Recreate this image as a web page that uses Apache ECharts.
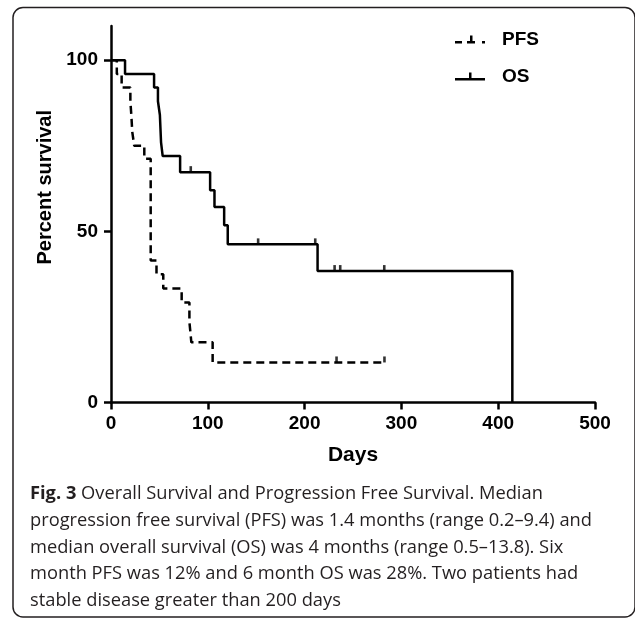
<!DOCTYPE html>
<html>
<head>
<meta charset="utf-8">
<script src="https://cdn.jsdelivr.net/npm/echarts@6/dist/echarts.min.js"></script>
<style>
html, body { margin: 0; padding: 0; background: #fff; }
#chart { width: 635px; height: 620px; }
</style>
</head>
<body>
<div id="chart"></div>
<script>
// Kaplan-Meier steps (day, percent survival)
var osDays = [0, 14.5, 44.5, 48.5, 50.5, 51.7, 53.4, 71.4, 102.4, 106.9, 116.9, 120.6, 213.4, 414.6];
var osSurv = [100, 96, 92, 88, 84, 76, 72, 67.3, 62, 57.1, 51.8, 46.2, 38.4, 0];
var osCensorDays = [82.4, 152, 211, 231, 236.8, 282.3];
var osCensorSurv = [67.3, 46.2, 46.2, 38.4, 38.4, 38.4];

var pfsDays = [0, 6, 11, 20, 21, 22, 24, 34.4, 41, 47, 54, 73, 81, 83, 105, 282.5];
var pfsSurv = [100, 96, 92, 88, 84, 79, 75, 71.2, 41.5, 37.5, 33.3, 29.2, 23.5, 17.6, 11.7, 11.7];
var pfsCensorDays = [233, 282.5];
var pfsCensorSurv = [11.7, 11.7];

var yTicks = [0, 50, 100];

var captionLines = [
    '{b|Fig. 3} Overall Survival and Progression Free Survival. Median',
    'progression free survival (PFS) was 1.4 months (range 0.2\u20139.4) and',
    'median overall survival (OS) was 4 months (range 0.5\u201313.8). Six',
    'month PFS was 12% and 6 month OS was 28%. Two patients had',
    'stable disease greater than 200 days'
];

function zip(xs, ys) {
    return xs.map(function(x, i) { return [x, ys[i]]; });
}

var chart = echarts.init(document.getElementById('chart'));
var axisFont = '"Liberation Sans", Arial, sans-serif';
var capFont = '"Open Sans", sans-serif';
var ink = '#000';

var captionGraphics = captionLines.map(function(line, i) {
    return {
        type: 'text',
        left: 30,
        top: 485 + i * 26.7,
        style: {
            text: line,
            fill: '#231f20',
            font: '18.3px ' + capFont,
            rich: {
                b: { fontWeight: 'bold', fontSize: 18.3, fontFamily: capFont, fill: '#231f20' }
            }
        }
    };
});

var option = {
    animation: false,
    backgroundColor: '#fff',
    grid: { left: 111, right: 40, top: 26, bottom: 217.5 },
    legend: {
        orient: 'vertical',
        left: 455,
        top: 30,
        padding: 0,
        itemGap: 18,
        itemWidth: 30,
        itemHeight: 8,
        textStyle: {
            fontFamily: axisFont, fontWeight: 'bold', fontSize: 19, color: ink,
            padding: [5, 0, 0, 12]
        },
        data: [
            { name: 'PFS', icon: 'path://M0,5.5h7v2.5h-7z M12,5.5h8v2.5h-8z M15,0h2.5v6h-2.5z M27,5.5h3v2.5h-3z' },
            { name: 'OS', icon: 'path://M0,5.5h30v2.5h-30z M14,0h2.5v6h-2.5z' }
        ]
    },
    xAxis: {
        type: 'value',
        min: 0, max: 500, interval: 100,
        name: 'Days',
        nameLocation: 'middle',
        nameGap: 42,
        nameTextStyle: { fontFamily: axisFont, fontWeight: 'bold', fontSize: 21, color: ink },
        axisLine: { lineStyle: { color: ink, width: 2.5 } },
        axisTick: { length: 7, lineStyle: { color: ink, width: 2.5 } },
        axisLabel: { margin: 12, fontFamily: axisFont, fontWeight: 'bold', fontSize: 19, color: ink },
        splitLine: { show: false }
    },
    yAxis: {
        type: 'value',
        min: 0, max: 110, interval: 50,
        name: 'Percent survival',
        nameLocation: 'middle',
        nameGap: 56,
        nameTextStyle: {
            fontFamily: axisFont, fontWeight: 'bold', fontSize: 20, color: ink,
            padding: [0, 0, 0, 54]
        },
        axisLine: { show: true, lineStyle: { color: ink, width: 2.5 } },
        axisTick: { show: true, length: 7, customValues: yTicks, lineStyle: { color: ink, width: 2.5 } },
        axisLabel: { margin: 13, customValues: yTicks, fontFamily: axisFont, fontWeight: 'bold', fontSize: 19, color: ink },
        splitLine: { show: false }
    },
    series: [
        {
            name: 'PFS',
            type: 'line',
            step: 'end',
            symbol: 'none',
            data: zip(pfsDays, pfsSurv),
            itemStyle: { color: ink },
            lineStyle: { color: ink, width: 2.5, type: [8, 5] }
        },
        {
            name: 'OS',
            type: 'line',
            step: 'end',
            symbol: 'none',
            data: zip(osDays, osSurv),
            itemStyle: { color: ink },
            lineStyle: { color: ink, width: 2.5 }
        },
        {
            name: 'PFS censored',
            type: 'scatter',
            symbol: 'rect',
            symbolSize: [2.6, 6],
            symbolOffset: [0, -3],
            itemStyle: { color: ink },
            data: zip(pfsCensorDays, pfsCensorSurv)
        },
        {
            name: 'OS censored',
            type: 'scatter',
            symbol: 'rect',
            symbolSize: [2.6, 6],
            symbolOffset: [0, -3],
            itemStyle: { color: ink },
            data: zip(osCensorDays, osCensorSurv)
        }
    ],
    graphic: [
        {
            type: 'rect',
            shape: { x: 13, y: 7.5, width: 622, height: 609.5, r: 10 },
            style: { fill: 'none', stroke: '#231f20', lineWidth: 1.5 }
        }
    ].concat(captionGraphics)
};

chart.setOption(option);
</script>
</body>
</html>
